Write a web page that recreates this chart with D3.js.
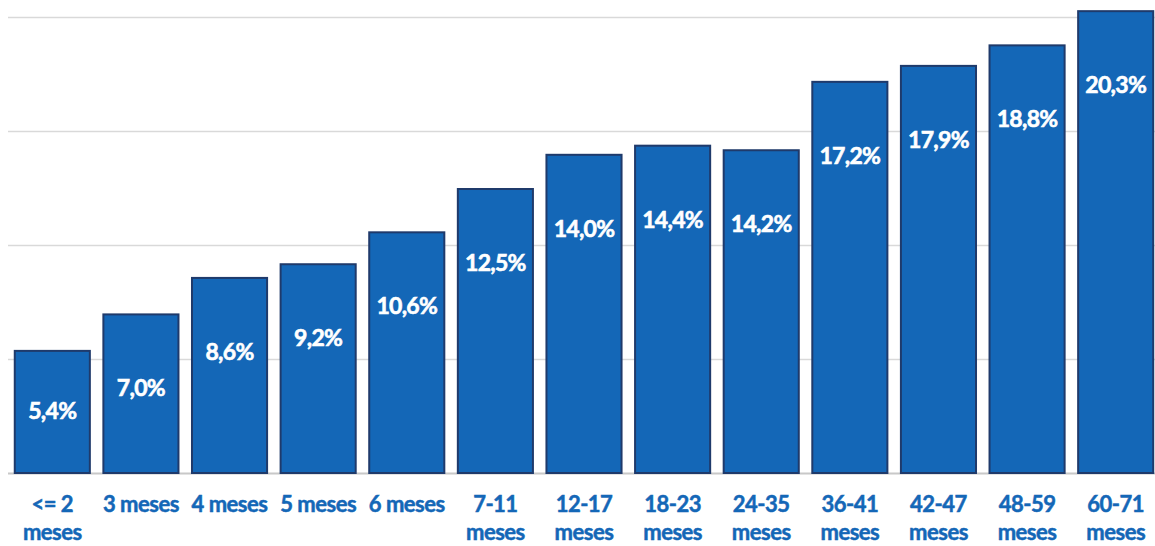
<!DOCTYPE html>
<html><head><meta charset="utf-8">
<script src="https://cdn.jsdelivr.net/npm/d3@7"></script>
<style>body{margin:0;background:#fff;} svg{display:block;}</style>
</head><body>
<svg id="c" width="1155" height="546"></svg>
<script>
const categories = [["<= 2","meses"],["3 meses"],["4 meses"],["5 meses"],["6 meses"],["7-11","meses"],["12-17","meses"],["18-23","meses"],["24-35","meses"],["36-41","meses"],["42-47","meses"],["48-59","meses"],["60-71","meses"]];
const values = [5.4,7.0,8.6,9.2,10.6,12.5,14.0,14.4,14.2,17.2,17.9,18.8,20.3];
const valueLabels = ["5,4%","7,0%","8,6%","9,2%","10,6%","12,5%","14,0%","14,4%","14,2%","17,2%","17,9%","18,8%","20,3%"];
const gridTicks = [0,5,10,15,20];

const svg = d3.select("#c");
const x = d3.scaleBand().domain(d3.range(values.length)).range([8,1160]).paddingInner(0.13).paddingOuter(0.065);
const y = d3.scaleLinear().domain([0,20]).range([473,17]);

svg.append("g").selectAll("line").data(gridTicks).join("line")
  .attr("x1",8).attr("x2",1155)
  .attr("y1",d=>y(d)+0.5).attr("y2",d=>y(d)+0.5)
  .attr("stroke",d=>d===0?"#c8c8c8":"#d9d9d9").attr("stroke-width",d=>d===0?2:1.3);

svg.append("g").selectAll("rect").data(values).join("rect")
  .attr("x",(d,i)=>x(i)+1).attr("width",x.bandwidth()-2)
  .attr("y",d=>y(d)+1).attr("height",d=>y(0)-y(d)-1)
  .attr("fill","#1467b7").attr("stroke","#1f3a6b").attr("stroke-width",2);

svg.append("g").selectAll("text").data(values).join("text")
  .attr("x",(d,i)=>x(i)+x.bandwidth()/2)
  .attr("y",d=>Math.min((y(d)+y(0))/2, y(d)+75))
  .attr("dy","0.35em")
  .attr("text-anchor","middle")
  .attr("fill","#fff").attr("stroke","#fff").attr("stroke-width",0.6)
  .attr("font-family","Lato, sans-serif").attr("font-weight","bold").attr("font-size",23)
  .attr("letter-spacing","-0.7")
  .text((d,i)=>valueLabels[i]);

const xl = svg.append("g").selectAll("text").data(categories).join("text")
  .attr("x",(d,i)=>x(i)+x.bandwidth()/2)
  .attr("y",512)
  .attr("text-anchor","middle")
  .attr("fill","#1467b7").attr("stroke","#1467b7").attr("stroke-width",0.5)
  .attr("font-family","Lato, sans-serif").attr("font-weight","bold").attr("font-size",22)
  .attr("letter-spacing","-0.5");
xl.selectAll("tspan").data(d=>d).join("tspan")
  .attr("x",function(){return this.parentNode.getAttribute("x");})
  .attr("dy",(d,i)=>i===0?0:28)
  .text(d=>d);
</script>
</body></html>
